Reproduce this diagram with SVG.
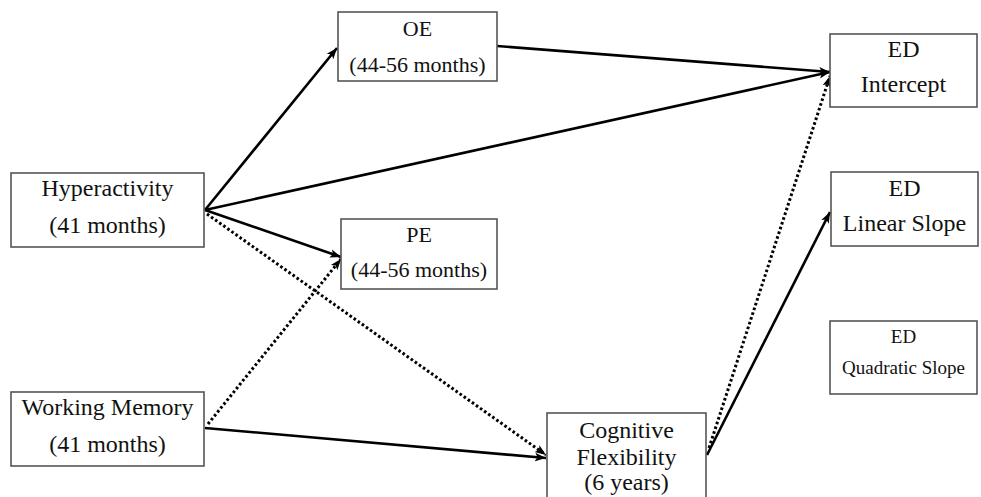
<svg xmlns="http://www.w3.org/2000/svg" width="981" height="497" viewBox="0 0 981 497">
<style>
  .box { fill: #ffffff; stroke: #555555; stroke-width: 1.6; }
  .t { font-family: "Liberation Serif", "Times New Roman", serif; font-size: 24px; fill: #111111; text-anchor: middle; }
  .m { font-size: 22px; }
  .s { font-size: 19px; }
  .solid { stroke: #000000; stroke-width: 2.6; fill: none; marker-end: url(#arrow); }
  .dot { stroke: #000000; stroke-width: 3; fill: none; stroke-dasharray: 2.6 2.4; marker-end: url(#arrow); }
</style>
<defs>
  <marker id="arrow" markerUnits="userSpaceOnUse" markerWidth="12" markerHeight="10" refX="11" refY="5" orient="auto">
    <path d="M0,0.8 L11,5 L0,9.2 L2.5,5 Z" fill="#000000"/>
  </marker>
</defs>
<rect width="981" height="497" fill="#ffffff"/>
<g id="connectors">
  <line class="solid" x1="205" y1="210" x2="337" y2="48"/>
  <line class="solid" x1="497" y1="46" x2="830" y2="72"/>
  <line class="solid" x1="205" y1="210" x2="830" y2="72"/>
  <line class="solid" x1="205" y1="210" x2="341" y2="257"/>
  <line class="dot" x1="207" y1="214" x2="546" y2="455"/>
  <line class="dot" x1="208" y1="424" x2="341" y2="259"/>
  <line class="solid" x1="205" y1="428" x2="546" y2="458"/>
  <line class="dot" x1="709" y1="448" x2="830" y2="76"/>
  <line class="solid" x1="707" y1="455" x2="830" y2="212"/>
</g>
<g id="hyperactivity">
  <rect class="box" x="11" y="173" width="193" height="74"/>
  <text class="t" x="107.5" y="196">Hyperactivity</text>
  <text class="t" x="107.5" y="233">(41 months)</text>
</g>
<g id="working-memory">
  <rect class="box" x="11" y="392" width="193" height="74"/>
  <text class="t" x="107.5" y="415">Working Memory</text>
  <text class="t" x="107.5" y="452">(41 months)</text>
</g>
<g id="oe">
  <rect class="box" x="338" y="12" width="159" height="69"/>
  <text class="t m" x="417.5" y="36">OE</text>
  <text class="t m" x="417.5" y="72">(44-56 months)</text>
</g>
<g id="pe">
  <rect class="box" x="341" y="219" width="156" height="70"/>
  <text class="t m" x="419" y="242">PE</text>
  <text class="t m" x="419" y="277">(44-56 months)</text>
</g>
<g id="cognitive-flexibility">
  <rect class="box" x="547" y="413" width="159" height="100"/>
  <text class="t" x="626.5" y="438">Cognitive</text>
  <text class="t" x="626.5" y="465">Flexibility</text>
  <text class="t" x="626.5" y="490">(6 years)</text>
</g>
<g id="ed-intercept">
  <rect class="box" x="830" y="34" width="147" height="73"/>
  <text class="t" x="903.5" y="57">ED</text>
  <text class="t" x="903.5" y="92">Intercept</text>
</g>
<g id="ed-linear-slope">
  <rect class="box" x="831" y="172" width="147" height="74"/>
  <text class="t" x="904.5" y="196">ED</text>
  <text class="t" x="904.5" y="231">Linear Slope</text>
</g>
<g id="ed-quadratic-slope">
  <rect class="box" x="830" y="321" width="147" height="73"/>
  <text class="t s" x="903.5" y="343">ED</text>
  <text class="t s" x="903.5" y="374">Quadratic Slope</text>
</g>
</svg>
